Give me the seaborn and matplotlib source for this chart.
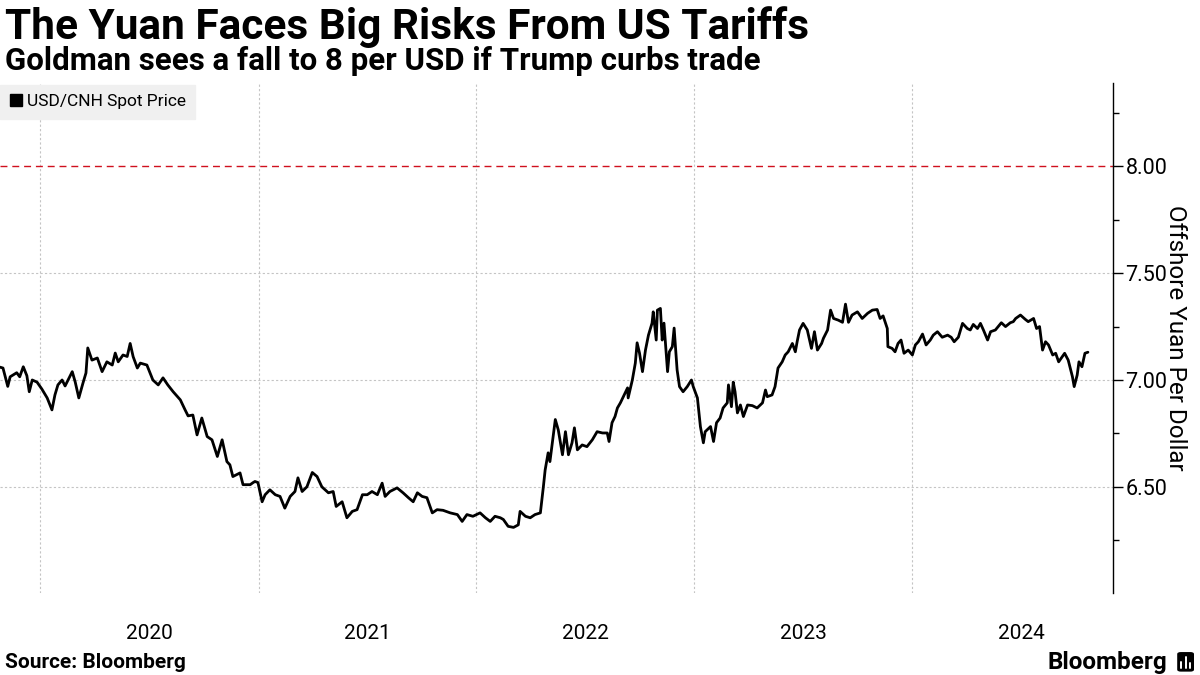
import matplotlib
matplotlib.use('Agg')
import matplotlib.pyplot as plt
import matplotlib.dates as mdates
from matplotlib.lines import Line2D
from matplotlib.patches import FancyBboxPatch
import pandas as pd
import seaborn as sns

# USD/CNH spot (irregular spacing, roughly every 5-8 days)
dates = [
    '2019-10-26', '2019-10-31', '2019-11-08', '2019-11-12', '2019-11-23', '2019-11-28',
    '2019-12-04', '2019-12-10', '2019-12-14', '2019-12-19', '2019-12-27',
    '2020-01-04', '2020-01-13', '2020-01-21', '2020-01-26', '2020-01-31', '2020-02-07',
    '2020-02-12', '2020-02-24', '2020-02-29', '2020-03-06', '2020-03-13', '2020-03-18',
    '2020-03-21', '2020-03-28', '2020-04-06', '2020-04-14', '2020-04-22', '2020-05-01',
    '2020-05-06', '2020-05-11', '2020-05-19', '2020-05-26', '2020-05-31', '2020-06-05',
    '2020-06-12', '2020-06-17', '2020-06-28', '2020-07-08', '2020-07-17', '2020-07-25',
    '2020-08-02', '2020-08-11', '2020-08-23', '2020-08-31', '2020-09-05', '2020-09-13',
    '2020-09-20', '2020-09-28', '2020-10-07', '2020-10-15', '2020-10-24', '2020-11-01',
    '2020-11-09', '2020-11-14', '2020-11-19', '2020-12-01', '2020-12-06', '2020-12-18',
    '2020-12-23', '2020-12-26', '2020-12-31',
    '2021-01-07', '2021-01-12', '2021-01-20', '2021-01-29', '2021-02-06', '2021-02-14',
    '2021-02-23', '2021-03-03', '2021-03-08', '2021-03-15', '2021-03-23', '2021-04-01',
    '2021-04-09', '2021-04-17', '2021-04-28', '2021-05-06', '2021-05-11', '2021-05-21',
    '2021-05-29', '2021-06-07', '2021-06-15', '2021-06-24', '2021-07-02', '2021-07-10',
    '2021-07-19', '2021-07-27', '2021-08-01', '2021-08-09', '2021-08-21', '2021-08-31',
    '2021-09-09', '2021-09-17', '2021-09-24', '2021-10-02', '2021-10-10', '2021-10-19',
    '2021-10-27', '2021-11-06', '2021-11-18', '2021-11-30', '2021-12-08', '2021-12-16',
    '2021-12-26',
    '2022-01-07', '2022-01-16', '2022-01-24', '2022-02-01', '2022-02-10', '2022-02-15',
    '2022-02-23', '2022-03-04', '2022-03-12', '2022-03-15', '2022-03-24', '2022-04-01',
    '2022-04-09', '2022-04-18', '2022-04-23', '2022-04-26', '2022-05-01', '2022-05-04',
    '2022-05-13', '2022-05-18', '2022-05-25', '2022-05-30', '2022-06-04', '2022-06-10',
    '2022-06-14', '2022-06-19', '2022-06-27', '2022-07-05', '2022-07-14', '2022-07-22',
    '2022-07-31', '2022-08-08', '2022-08-11', '2022-08-16', '2022-08-21', '2022-08-25',
    '2022-08-30', '2022-09-04', '2022-09-11', '2022-09-12', '2022-09-19', '2022-09-24',
    '2022-09-27', '2022-10-01', '2022-10-06', '2022-10-11', '2022-10-16', '2022-10-22',
    '2022-10-24', '2022-10-29', '2022-10-31', '2022-11-05', '2022-11-08', '2022-11-11',
    '2022-11-17', '2022-11-20', '2022-11-25', '2022-11-28', '2022-12-03', '2022-12-07',
    '2022-12-13', '2022-12-20', '2022-12-27', '2022-12-30',
    '2023-01-06', '2023-01-11', '2023-01-16', '2023-01-19', '2023-01-28', '2023-02-02',
    '2023-02-07', '2023-02-13', '2023-02-18', '2023-02-25', '2023-02-27', '2023-03-04',
    '2023-03-07', '2023-03-10', '2023-03-14', '2023-03-19', '2023-03-24', '2023-03-31',
    '2023-04-08', '2023-04-16', '2023-04-25', '2023-04-30', '2023-05-03', '2023-05-11',
    '2023-05-16', '2023-05-21', '2023-05-28', '2023-06-02', '2023-06-07', '2023-06-14',
    '2023-06-19', '2023-06-22', '2023-06-26', '2023-07-02', '2023-07-09', '2023-07-16',
    '2023-07-21', '2023-07-26', '2023-08-02', '2023-08-05', '2023-08-12', '2023-08-17',
    '2023-08-22', '2023-08-30', '2023-09-06', '2023-09-11', '2023-09-16', '2023-09-22',
    '2023-10-01', '2023-10-09', '2023-10-18', '2023-10-26', '2023-11-03', '2023-11-08',
    '2023-11-13', '2023-11-20', '2023-11-21', '2023-11-28', '2023-12-03', '2023-12-08',
    '2023-12-13', '2023-12-18', '2023-12-25',
    '2024-01-01', '2024-01-06', '2024-01-11', '2024-01-18', '2024-01-24', '2024-01-31',
    '2024-02-05', '2024-02-12', '2024-02-20', '2024-02-29', '2024-03-06', '2024-03-11',
    '2024-03-18', '2024-03-25', '2024-04-02', '2024-04-07', '2024-04-12', '2024-04-19',
    '2024-04-24', '2024-04-29', '2024-05-06', '2024-05-11', '2024-05-19', '2024-05-29',
    '2024-06-05', '2024-06-13', '2024-06-18', '2024-06-22', '2024-06-30', '2024-07-08',
    '2024-07-13', '2024-07-22', '2024-07-27', '2024-08-01', '2024-08-06', '2024-08-11',
    '2024-08-16', '2024-08-23', '2024-08-28', '2024-09-02', '2024-09-08', '2024-09-12',
    '2024-09-18', '2024-09-25', '2024-09-28', '2024-10-03', '2024-10-06', '2024-10-11',
    '2024-10-16', '2024-10-21',
]
spot = [
    7.060, 7.056, 6.970, 7.015, 7.034, 7.015,
    7.062, 7.020, 6.945, 7.000, 6.990,
    6.958, 6.916, 6.860, 6.930, 6.977, 7.000,
    6.972, 7.039, 6.990, 6.916, 6.986, 7.033,
    7.150, 7.093, 7.103, 7.039, 7.085, 7.070,
    7.126, 7.085, 7.117, 7.110, 7.171, 7.109,
    7.056, 7.079, 7.070, 7.000, 6.977, 7.010,
    6.977, 6.945, 6.907, 6.860, 6.832, 6.836,
    6.743, 6.822, 6.735, 6.720, 6.642, 6.720,
    6.618, 6.603, 6.548, 6.565, 6.510, 6.510,
    6.520, 6.525, 6.520,
    6.430, 6.463, 6.486, 6.463, 6.455, 6.400,
    6.455, 6.478, 6.542, 6.478, 6.500, 6.567,
    6.548, 6.500, 6.472, 6.478, 6.408, 6.430,
    6.355, 6.385, 6.393, 6.463, 6.463, 6.478,
    6.463, 6.517, 6.455, 6.478, 6.495, 6.472,
    6.449, 6.430, 6.472, 6.455, 6.449, 6.378,
    6.393, 6.390, 6.378, 6.370, 6.338, 6.370,
    6.362,
    6.378, 6.355, 6.338, 6.362, 6.355, 6.347,
    6.315, 6.310, 6.322, 6.385, 6.362, 6.355,
    6.370, 6.378, 6.500, 6.579, 6.659, 6.618,
    6.815, 6.766, 6.650, 6.758, 6.650, 6.706,
    6.776, 6.673, 6.696, 6.688, 6.720, 6.758,
    6.752, 6.752, 6.712, 6.800, 6.829, 6.869,
    6.893, 6.922, 6.963, 6.916, 7.000, 7.079,
    7.174, 7.126, 7.039, 7.140, 7.210, 7.266,
    7.319, 7.187, 7.327, 7.335, 7.187, 7.266,
    7.039, 7.132, 7.156, 7.243, 7.047, 6.969,
    6.945, 6.969, 7.000, 6.969,
    6.916, 6.782, 6.706, 6.758, 6.782, 6.712,
    6.800, 6.822, 6.869, 6.893, 6.977, 6.875,
    6.990, 6.945, 6.846, 6.883, 6.829, 6.883,
    6.880, 6.869, 6.893, 6.953, 6.922, 6.930,
    6.969, 7.056, 7.085, 7.117, 7.132, 7.171,
    7.132, 7.179, 7.234, 7.265, 7.234, 7.148,
    7.226, 7.140, 7.171, 7.195, 7.234, 7.327,
    7.288, 7.280, 7.270, 7.355, 7.270, 7.304,
    7.319, 7.288, 7.312, 7.327, 7.330, 7.288,
    7.300, 7.241, 7.156, 7.148, 7.132, 7.171,
    7.187, 7.125, 7.140,
    7.117, 7.164, 7.179, 7.215, 7.164, 7.187,
    7.210, 7.226, 7.200, 7.210, 7.200, 7.179,
    7.200, 7.265, 7.241, 7.234, 7.260, 7.241,
    7.265, 7.234, 7.187, 7.226, 7.234, 7.268,
    7.250, 7.268, 7.273, 7.288, 7.304, 7.284,
    7.273, 7.288, 7.241, 7.250, 7.140, 7.179,
    7.164, 7.117, 7.125, 7.085, 7.109, 7.125,
    7.093, 7.016, 6.969, 7.023, 7.085, 7.062,
    7.125, 7.130,
]

y_ticks = [6.50, 7.00, 7.50, 8.00]
y_minor = [6.25, 6.75, 7.25, 7.75, 8.25]
goldman_target = 8.00

df = pd.DataFrame({'Date': pd.to_datetime(dates), 'USD/CNH Spot Price': spot})

sns.set_style('white')
plt.rcParams['font.family'] = ['Roboto', 'DejaVu Sans']
plt.rcParams['text.color'] = 'black'
plt.rcParams['axes.labelcolor'] = 'black'

fig = plt.figure(figsize=(12, 6.75), dpi=100)
ax = fig.add_axes([0.0, 0.1215, 0.9275, 0.7555])

sns.lineplot(data=df, x='Date', y='USD/CNH Spot Price', color='black',
             linewidth=2.0, ax=ax, legend=False, zorder=3)

ax.set_xlim(pd.Timestamp('2019-10-26'), pd.Timestamp('2024-12-02'))
ax.set_ylim(6.003, 8.39)

# horizontal grid, with the Goldman 8.00 level in red
for v in y_ticks:
    if v == goldman_target:
        ax.axhline(v, color='#d0101e', linestyle=(0, (5, 3.5)), linewidth=1.0, zorder=2)
    else:
        ax.axhline(v, color='#c4c4c4', linestyle=(0, (2, 2)), linewidth=0.8, zorder=1)

ax.xaxis.set_major_locator(mdates.YearLocator())
ax.xaxis.set_major_formatter(plt.NullFormatter())
ax.xaxis.set_minor_locator(mdates.MonthLocator(bymonth=7, bymonthday=2))
ax.xaxis.set_minor_formatter(mdates.DateFormatter('%Y'))
ax.grid(axis='x', which='major', color='#c4c4c4', linestyle=(0, (2, 2)), linewidth=0.8)
ax.tick_params(axis='x', which='both', length=0, labelsize=15, pad=22, colors='black')

ax.yaxis.tick_right()
ax.yaxis.set_label_position('right')
ax.set_yticks(y_ticks)
ax.set_yticklabels([f'{v:.2f}' for v in y_ticks])
ax.set_yticks(y_minor, minor=True)
ax.tick_params(axis='y', which='major', length=7, width=1, labelsize=15.5, pad=2, colors='black')
ax.tick_params(axis='y', which='minor', length=4, width=1, colors='black')
ax.set_ylabel('Offshore Yuan Per Dollar', fontsize=17.5, rotation=270, labelpad=14)
ax.set_xlabel('')

for side in ['top', 'left', 'bottom']:
    ax.spines[side].set_visible(False)
ax.spines['right'].set_color('black')
ax.spines['right'].set_linewidth(1)

handle = Line2D([], [], marker='s', color='black', linestyle='none', markersize=9)
ax.legend([handle], ['USD/CNH Spot Price'], loc='upper left', bbox_to_anchor=(0.0, 0.997),
          frameon=True, fancybox=False, facecolor='#f0f0f0', edgecolor='#f0f0f0',
          framealpha=1, fontsize=12.5, handlelength=0.7, handletextpad=0.3,
          borderpad=0.55, borderaxespad=0)

fig.text(0.004, 0.960, 'The Yuan Faces Big Risks From US Tariffs', fontsize=30.5,
         weight='bold', va='center', ha='left')
fig.text(0.004, 0.909, 'Goldman sees a fall to 8 per USD if Trump curbs trade', fontsize=22.5,
         weight='bold', va='center', ha='left')
fig.text(0.004, 0.019, 'Source: Bloomberg', fontsize=15, weight='bold', va='center', ha='left')
fig.text(0.973, 0.019, 'Bloomberg', fontsize=17.5, weight='bold', va='center', ha='right')

# small Bloomberg mark
fig.patches.append(FancyBboxPatch((0.981, 0.005), 0.014, 0.029,
                                  boxstyle='round,pad=0,rounding_size=0.003',
                                  transform=fig.transFigure, facecolor='black', edgecolor='none'))
for bx, bh in [(0.9845, 0.010), (0.988, 0.016), (0.9915, 0.008)]:
    fig.lines.append(Line2D([bx, bx], [0.010, 0.010 + bh], transform=fig.transFigure,
                            color='white', linewidth=1.4))

fig.savefig('out.png', dpi=100)
